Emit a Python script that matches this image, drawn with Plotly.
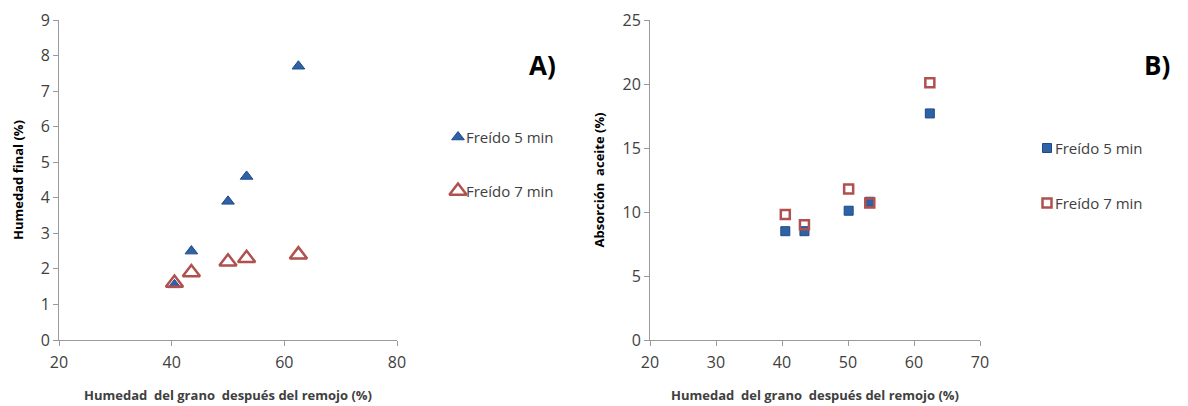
import plotly.graph_objects as go

# Panel A data
a_x5 = [40.5, 43.5, 50.0, 53.3, 62.5]
a_y5 = [1.55, 2.5, 3.9, 4.6, 7.7]
a_x7 = [40.5, 43.5, 50.0, 53.3, 62.5]
a_y7 = [1.6, 1.9, 2.2, 2.3, 2.4]

# Panel B data
b_x5 = [40.5, 43.4, 50.1, 53.3, 62.4]
b_y5 = [8.5, 8.5, 10.1, 10.8, 17.7]
b_x7 = [40.5, 43.4, 50.1, 53.3, 62.4]
b_y7 = [9.8, 9.0, 11.8, 10.7, 20.1]

series_names = ["Freído 5 min", "Freído 7 min"]
x_title = "Humedad  del grano  después del remojo (%)"
a_y_title = "Humedad final (%)"
b_y_title = "Absorción  aceite (%)"

BLUE = "#2E62A8"
BLUE_D = "#1F4A80"
RED = "#B0504F"
FONT = "Open Sans"
GRAY = "#404040"

W, H, OFF = 1188, 406, 8  # page body offset


def px(p):
    return (p - OFF) / W


def py(p):
    return 1 - (p - OFF) / H


fig = go.Figure()
fig.add_trace(go.Scatter(x=a_x5, y=a_y5, mode="markers", name=series_names[0],
                         marker=dict(symbol="triangle-up", size=11, color=BLUE,
                                     line=dict(color=BLUE_D, width=1)),
                         xaxis="x", yaxis="y", showlegend=False))
fig.add_trace(go.Scatter(x=a_x7, y=a_y7, mode="markers", name=series_names[1],
                         marker=dict(symbol="triangle-up-open", size=15, color=RED,
                                     line=dict(color=RED, width=2.5)),
                         xaxis="x", yaxis="y", showlegend=False))
fig.add_trace(go.Scatter(x=b_x5, y=b_y5, mode="markers", name=series_names[0],
                         marker=dict(symbol="square", size=9, color=BLUE,
                                     line=dict(color=BLUE_D, width=1)),
                         xaxis="x2", yaxis="y2", showlegend=False))
fig.add_trace(go.Scatter(x=b_x7, y=b_y7, mode="markers", name=series_names[1],
                         marker=dict(symbol="square-open", size=9, color=RED,
                                     line=dict(color=RED, width=2.5)),
                         xaxis="x2", yaxis="y2", showlegend=False))

# Legend entries drawn on a hidden full-figure axis pair
leg = [
    (458, 137, "triangle-up", BLUE, 11, series_names[0]),
    (458, 191, "triangle-up-open", RED, 15, series_names[1]),
    (1047, 148, "square", BLUE, 9, series_names[0]),
    (1047, 203, "square-open", RED, 9, series_names[1]),
]
for xpix, ypix, sym, col, sz, txt in leg:
    xp, yp = px(xpix), py(ypix)
    fig.add_trace(go.Scatter(x=[xp], y=[yp], mode="markers", showlegend=False,
                             marker=dict(symbol=sym, size=sz, color=col,
                                         line=dict(color=col if "open" in sym else BLUE_D,
                                                   width=2.5 if "open" in sym else 1)),
                             xaxis="x3", yaxis="y3", hoverinfo="skip"))
    fig.add_annotation(x=px(xpix + 6), y=yp, xref="paper", yref="paper", text=txt,
                       showarrow=False, xanchor="left", yanchor="middle",
                       font=dict(family=FONT, size=15, color=GRAY))

fig.add_annotation(x=px(542), y=py(45), xref="paper", yref="paper", text="<b>A)</b>",
                   showarrow=False, font=dict(family=FONT, size=26, color="black"))
fig.add_annotation(x=px(1172), y=py(45), xref="paper", yref="paper", text="<b>B)</b>",
                   showarrow=False, font=dict(family=FONT, size=26, color="black"))

axis_common = dict(showline=True, linecolor="#9a9a9a", linewidth=1, ticks="outside",
                   tickcolor="#9a9a9a", ticklen=5, showgrid=False, zeroline=False,
                   automargin=False,
                   tickfont=dict(family=FONT, size=16, color=GRAY))

ydom = [py(340), py(20)]
fig.update_layout(
    width=W, height=H, margin=dict(l=0, r=0, t=0, b=0),
    plot_bgcolor="rgba(0,0,0,0)", paper_bgcolor="white",
    xaxis=dict(domain=[px(59), px(397)], range=[20, 80], tickvals=[20, 40, 60, 80],
               ticklabelstandoff=3,
               title=dict(text="<b>" + x_title + "</b>", font=dict(family=FONT, size=13, color=GRAY), standoff=18),
               **axis_common),
    yaxis=dict(domain=ydom, range=[0, 9], dtick=1,
               title=dict(text="<b>" + a_y_title + "</b>", font=dict(family=FONT, size=13, color="black"), standoff=14),
               **axis_common),
    xaxis2=dict(domain=[px(650), px(980)], range=[20, 70], dtick=10, anchor="y2",
                ticklabelstandoff=3,
                title=dict(text="<b>" + x_title + "</b>", font=dict(family=FONT, size=13, color=GRAY), standoff=18),
                **axis_common),
    yaxis2=dict(domain=ydom, range=[0, 25], dtick=5, anchor="x2",
                title=dict(text="<b>" + b_y_title + "</b>", font=dict(family=FONT, size=13, color="black"), standoff=14),
                **axis_common),
    xaxis3=dict(domain=[0, 1], range=[0, 1], visible=False, anchor="y3"),
    yaxis3=dict(domain=[0, 1], range=[0, 1], visible=False, anchor="x3"),
)

fig.write_html("out.html")
